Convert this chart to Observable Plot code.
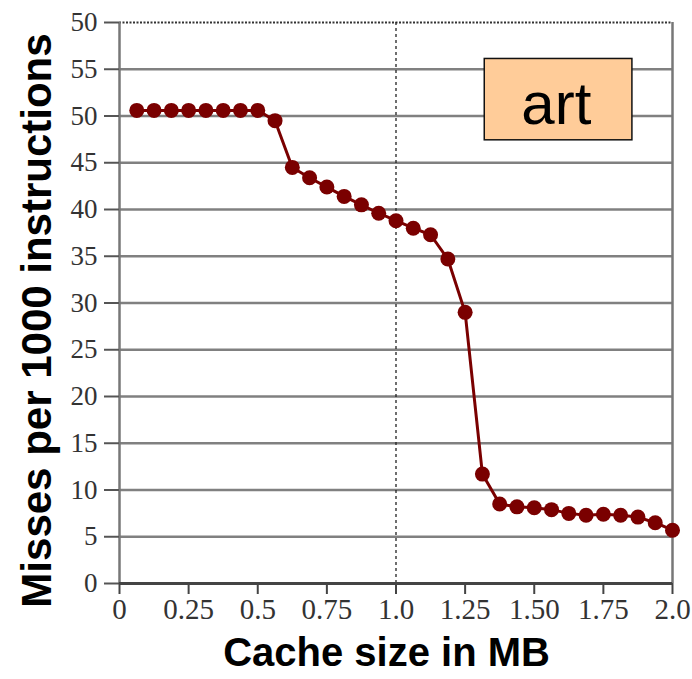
<!DOCTYPE html>
<html><head><meta charset="utf-8">
<script src="https://cdn.jsdelivr.net/npm/d3@7"></script>
<script src="https://cdn.jsdelivr.net/npm/@observablehq/plot@0.6"></script>
<style>body{margin:0;background:#fff}</style>
</head><body><div id="chart"></div>
<script>
const cacheSizeMB = [0.0625,0.125,0.1875,0.25,0.3125,0.375,0.4375,0.5,0.5625,0.625,0.6875,0.75,0.8125,0.875,0.9375,1.0,1.0625,1.125,1.1875,1.25,1.3125,1.375,1.4375,1.5,1.5625,1.625,1.6875,1.75,1.8125,1.875,1.9375,2.0];
const missesPer1000 = [50.6,50.6,50.6,50.6,50.6,50.6,50.6,50.6,49.5,44.5,43.4,42.4,41.4,40.5,39.6,38.8,38.0,37.3,34.7,29.0,11.7,8.5,8.2,8.1,7.9,7.5,7.3,7.4,7.3,7.1,6.5,5.7];
const xTickValues = [0,0.25,0.5,0.75,1.0,1.25,1.5,1.75,2.0];
const xTickLabels = ["0","0.25","0.5","0.75","1.0","1.25","1.50","1.75","2.0"];
const yTickValues = [0,5,10,15,20,25,30,35,40,45,50,55,60];
const yTickLabels = ["0","5","10","15","20","25","30","35","40","45","50","55","50"];
const dividerAt = [1.0];
const benchmarkName = ["art"];
const labelBox = [{x1:1.321, x2:1.855, y1:47.4, y2:56.1, cx:1.58, cy:51.25}];

const data = cacheSizeMB.map((x,i)=>({x, y: missesPer1000[i]}));
const xFmt = v => xTickLabels[xTickValues.indexOf(v)] ?? "";
const yFmt = v => yTickLabels[yTickValues.indexOf(v)] ?? "";
const red = "#7a0000";
const serif = "'Liberation Serif', 'DejaVu Serif', serif";
const sans = "'Liberation Sans', Arial, sans-serif";

const chart = Plot.plot({
  width: 692, height: 679,
  marginLeft: 119, marginRight: 20, marginTop: 22, marginBottom: 96,
  x: {domain: [0, 2.0]},
  y: {domain: [0, 60]},
  style: {background: "#fff"},
  marks: [
    Plot.ruleY(yTickValues.filter(v => v > 0 && v < 60), {stroke: "#808080", strokeWidth: 2.4, x1: 0, x2: 2.0}),
    Plot.ruleY([60], {stroke: "#333", strokeWidth: 2, strokeDasharray: "2,1.5"}),
    Plot.ruleX([0], {stroke: "#777", strokeWidth: 2.5}),
    Plot.ruleX([2.0], {stroke: "#777", strokeWidth: 2.5}),
    Plot.ruleX(dividerAt, {stroke: "#222", strokeWidth: 1.3, strokeDasharray: "3,3"}),
    Plot.axisY({ticks: yTickValues, tickFormat: yFmt, tickSize: 15, tickPadding: 7, stroke: "#555", strokeWidth: 2,
      fontFamily: serif, fontSize: 27, fill: "#333", label: null}),
    Plot.axisX({ticks: xTickValues, tickFormat: xFmt, tickSize: 11, tickPadding: 4, stroke: "#444", strokeWidth: 2,
      fontFamily: serif, fontSize: 29, fill: "#333", label: null}),
    Plot.ruleY([0], {stroke: "#444", strokeWidth: 3, x1: 0, x2: 2.0}),
    Plot.line(data, {x: "x", y: "y", stroke: red, strokeWidth: 3}),
    Plot.dot(data, {x: "x", y: "y", r: 7.5, fill: red, stroke: "none"}),
    Plot.rect(labelBox, {x1: "x1", x2: "x2", y1: "y1", y2: "y2", fill: "#ffcc99", stroke: "#111", strokeWidth: 1.5}),
    Plot.text(labelBox, {x: "cx", y: "cy", text: () => benchmarkName[0], fontFamily: sans, fontSize: 60,
      lineAnchor: "middle", textAnchor: "middle", fill: "#000"}),
    Plot.text(["Misses per 1000 instructions"], {frameAnchor: "left", dx: -82, dy: 17.5, rotate: -90,
      textAnchor: "middle", lineAnchor: "middle",
      fontFamily: sans, fontWeight: "bold", fontSize: 42, fill: "#000"}),
    Plot.text(["Cache size in MB"], {frameAnchor: "bottom", dx: -9.5, dy: 70,
      textAnchor: "middle", lineAnchor: "middle",
      fontFamily: sans, fontWeight: "bold", fontSize: 40, fill: "#000"})
  ]
});
document.getElementById("chart").append(chart);
</script>
</body></html>
